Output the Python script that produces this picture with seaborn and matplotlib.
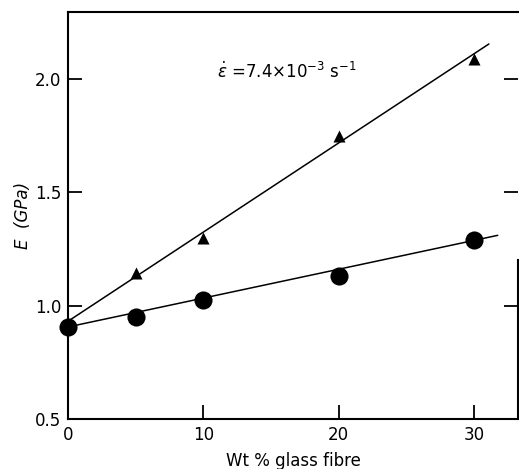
import matplotlib
matplotlib.use("Agg")
import matplotlib.pyplot as plt
import numpy as np
import pandas as pd
import seaborn as sns

# Young's modulus vs glass fibre content
circle_wt = [0, 5, 10, 20, 30]
circle_E = [0.905, 0.952, 1.026, 1.129, 1.288]
triangle_wt = [5, 10, 20, 30]
triangle_E = [1.146, 1.298, 1.746, 2.086]

# end points of the drawn best-fit lines
circle_fit_wt = [0.0, 31.75]
circle_fit_E = [0.906, 1.31]
triangle_fit_wt = [0.0, 31.1]
triangle_fit_E = [0.931, 2.154]

x_ticks = [0, 10, 20, 30]
y_ticks = [0.5, 1.0, 1.5, 2.0]
strain_rate_label = r"$\dot{\varepsilon}$ =7.4$\times$10$^{-3}$ s$^{-1}$"

sns.set_theme(style="ticks")
plt.rcParams["font.family"] = ["DejaVu Sans"]
plt.rcParams["mathtext.fontset"] = "dejavusans"

fig = plt.figure(figsize=(5.19, 4.69), dpi=100)
ax = fig.add_axes([68 / 519, 1 - 419 / 469, 450 / 519, 407 / 469])

lw = 1.1
sns.lineplot(x=circle_fit_wt, y=circle_fit_E, ax=ax, color="black", lw=lw)
sns.lineplot(x=triangle_fit_wt, y=triangle_fit_E, ax=ax, color="black", lw=lw)

circ = pd.DataFrame({"wt": circle_wt, "E": circle_E})
tri = pd.DataFrame({"wt": triangle_wt, "E": triangle_E})
sns.scatterplot(data=circ, x="wt", y="E", ax=ax, marker="o", s=170,
                color="black", edgecolor="black", linewidth=0, clip_on=False, zorder=4)
sns.scatterplot(data=tri, x="wt", y="E", ax=ax, marker="^", s=75,
                color="black", edgecolor="black", linewidth=0, clip_on=False, zorder=4)

ax.set_xlim(0, 33.25)
ax.set_ylim(0.5, 2.295)

ax.set_xticks(x_ticks)
ax.set_xticklabels([str(v) for v in x_ticks])
ax.set_yticks(y_ticks)
ax.set_yticklabels([f"{v:.1f}" for v in y_ticks])

ax.tick_params(axis="both", direction="in", length=10, width=1.3,
               labelsize=12, colors="black", pad=5)
ax.tick_params(axis="y", right=True, labelright=False)
ax.tick_params(axis="x", top=False)
# hide the corner ticks that sit on the spines
for t in ax.yaxis.get_major_ticks()[:1]:
    t.tick1line.set_visible(False)
    t.tick2line.set_visible(False)
for t in ax.xaxis.get_major_ticks()[:1]:
    t.tick1line.set_visible(False)

for side in ["left", "right", "top", "bottom"]:
    ax.spines[side].set_visible(True)
    ax.spines[side].set_linewidth(1.5)
    ax.spines[side].set_color("black")
# right-hand frame only runs along the lower part of the plot
ax.spines["right"].set_bounds(0.5, 1.2)

ax.set_xlabel("Wt % glass fibre", fontsize=12, labelpad=6, color="black")
ax.set_ylabel("E  (GPa)", fontsize=12, style="italic", labelpad=2, color="black")

ax.text(11.0, 2.03, strain_rate_label, fontsize=12, color="black",
        ha="left", va="center")

fig.savefig("out.png", dpi=100)
